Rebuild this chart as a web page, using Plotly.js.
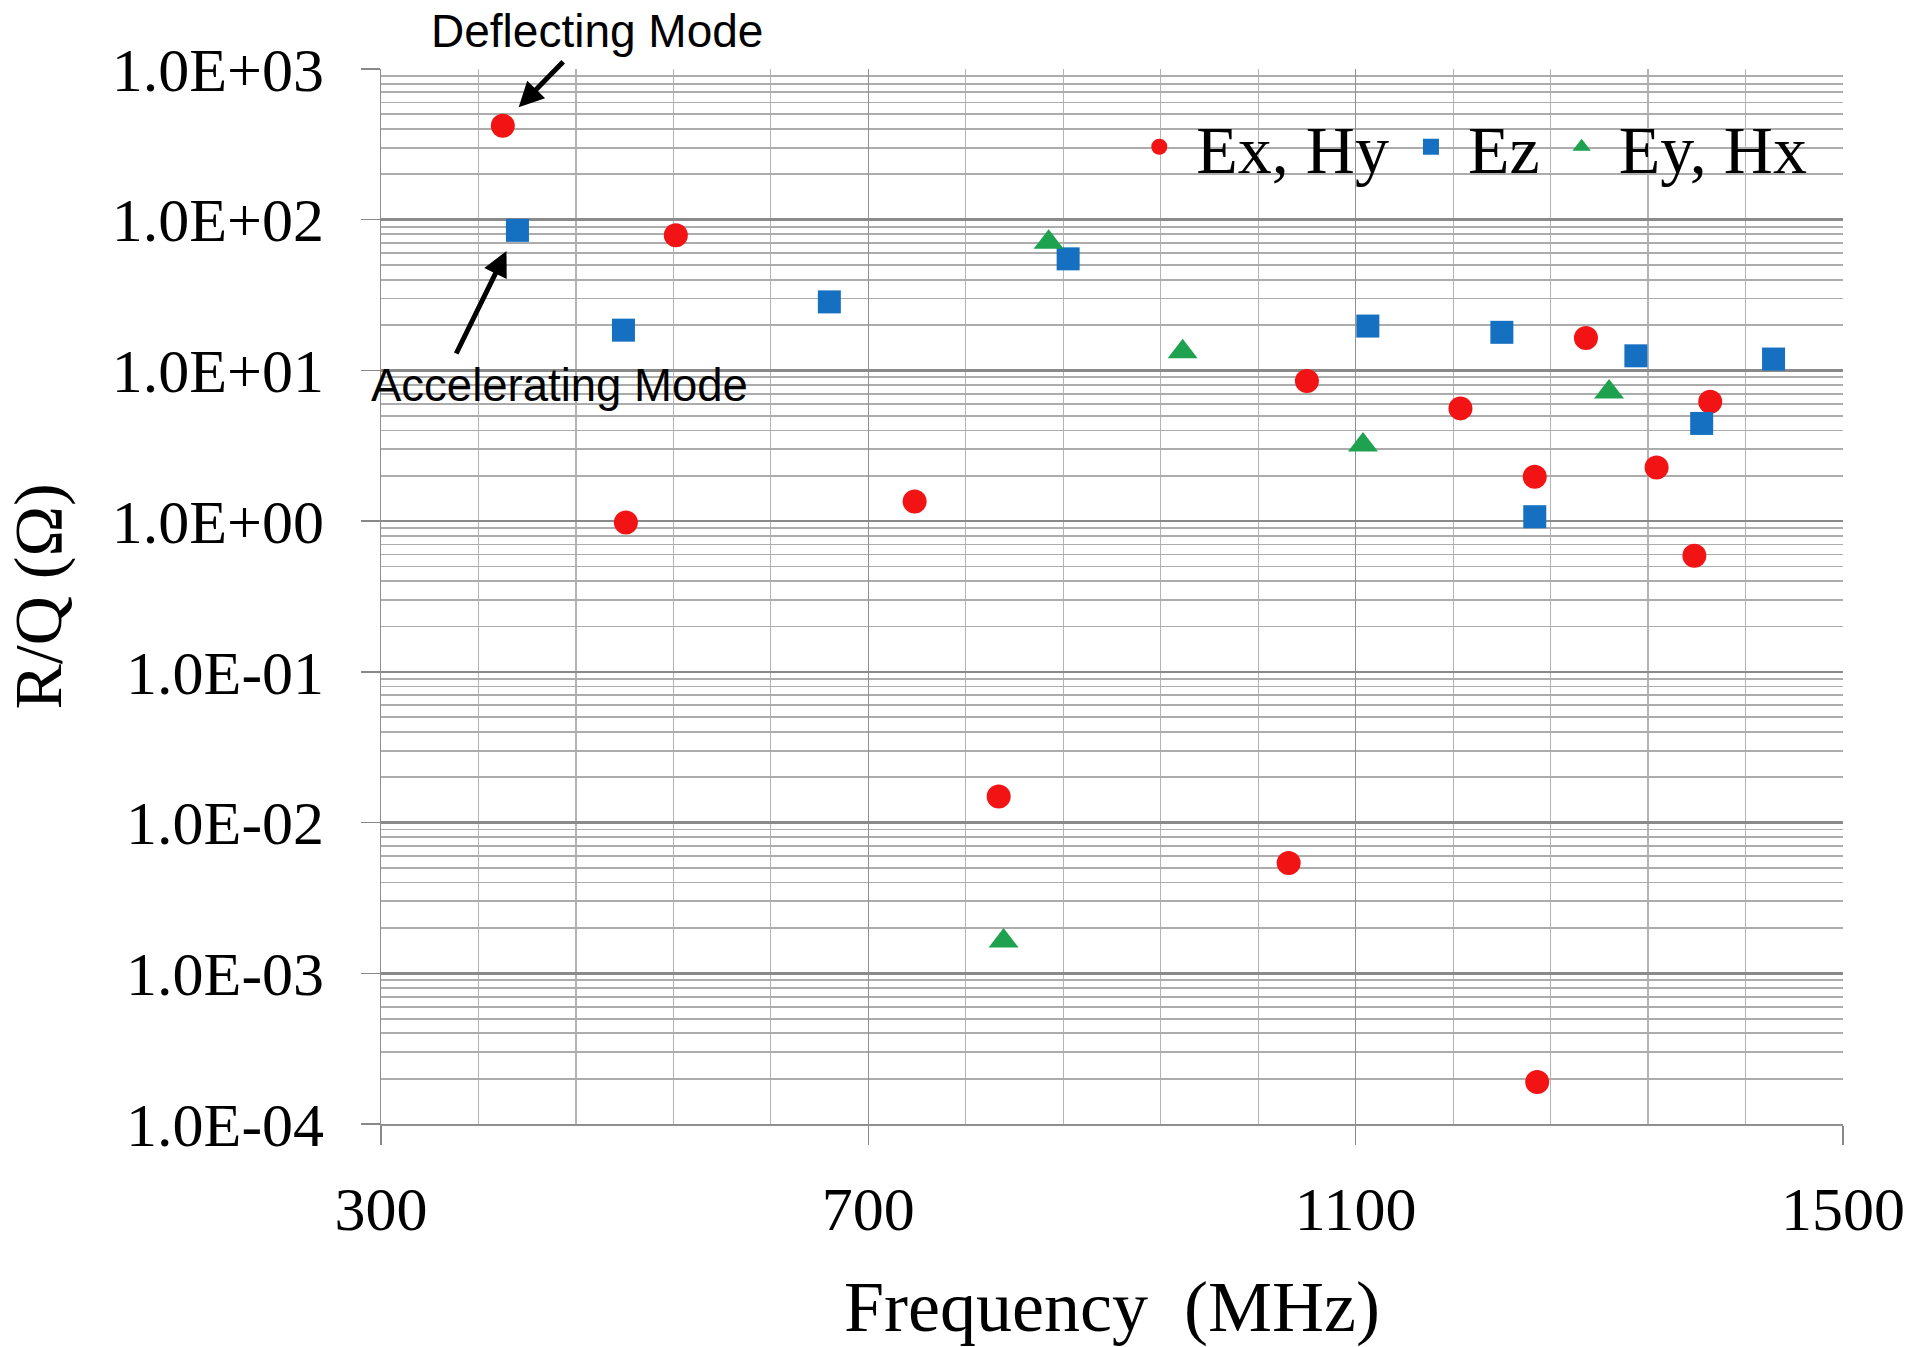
<!DOCTYPE html>
<html>
<head>
<meta charset="utf-8">
<script src="https://cdn.plot.ly/plotly-3.0.1.min.js"></script>
<style>html,body{margin:0;padding:0;background:#fff;}#chart{width:1931px;height:1347px;}</style>
</head>
<body>
<div id="chart"></div>
<script>
// ---- data ----
var exhyFreq = [400, 542, 501, 738, 807, 1045, 1060, 1186, 1247, 1249, 1289, 1347, 1378, 1391];
var exhyRQ   = [420, 79, 0.98, 1.35, 0.0149, 0.0054, 8.5, 5.6, 1.97, 0.00019, 16.4, 2.27, 0.59, 6.2];

var ezFreq = [412, 499, 668, 864, 1110, 1220, 1247, 1330, 1384, 1443];
var ezRQ   = [85, 18.5, 28.5, 55, 19.7, 17.9, 1.07, 12.5, 4.45, 11.9];

var eyhxFreq = [848, 958, 1106, 1308, 811];
var eyhxRQ   = [71, 13.3, 3.2, 7.2, 0.00164];

var seriesNames = ['Ex, Hy', 'Ez', 'Ey, Hx'];
var yTickVals = [1e-4, 1e-3, 1e-2, 1e-1, 1e0, 1e1, 1e2, 1e3];
var yTickText = ['1.0E-04', '1.0E-03', '1.0E-02', '1.0E-01', '1.0E+00', '1.0E+01', '1.0E+02', '1.0E+03'];
var xTickVals = [300, 700, 1100, 1500];

var serif = 'Liberation Serif, Times New Roman, serif';
var sans = 'Liberation Sans, Arial, sans-serif';

var traces = [
  {x: exhyFreq, y: exhyRQ, name: seriesNames[0], type: 'scatter', mode: 'markers',
   marker: {symbol: 'circle', size: 24, color: '#f21414'}},
  {x: ezFreq, y: ezRQ, name: seriesNames[1], type: 'scatter', mode: 'markers',
   marker: {symbol: 'square', size: 23, color: '#1570c1'}},
  {x: eyhxFreq, y: eyhxRQ, name: seriesNames[2], type: 'scatter', mode: 'markers',
   marker: {symbol: 'triangle-up', size: 26, color: '#1ea24f'}}
];

var layout = {
  width: 1931, height: 1347,
  margin: {l: 381, r: 88, t: 69, b: 223, pad: 0},
  paper_bgcolor: '#ffffff', plot_bgcolor: '#ffffff',
  showlegend: true,
  legend: {
    orientation: 'h', x: 0.979, xanchor: 'right', y: 0.926, yanchor: 'middle',
    font: {family: serif, size: 68, color: '#000'},
    bgcolor: 'rgba(255,255,255,0)', itemsizing: 'trace', itemwidth: 64, tracegroupgap: 0
  },
  xaxis: {
    type: 'linear', range: [300, 1500], tickmode: 'array', tickvals: xTickVals,
    ticks: 'outside', ticklen: 19, tickwidth: 1.5, tickcolor: '#888',
    ticklabelstandoff: 11,
    tickfont: {family: serif, size: 62, color: '#000'},
    showgrid: true, gridcolor: '#8f8f8f', gridwidth: 1.5,
    minor: {dtick: 80, tick0: 300, showgrid: true, gridcolor: '#b4b4b4', gridwidth: 1.2, ticks: ''},
    showline: true, linecolor: '#8f8f8f', linewidth: 1.5,
    zeroline: false, mirror: false,
    title: {text: 'Frequency  (MHz)', font: {family: serif, size: 72, color: '#000'}, standoff: 73}
  },
  yaxis: {
    type: 'log', range: [-4, 3], tickmode: 'array', tickvals: yTickVals, ticktext: yTickText,
    ticks: 'outside', ticklen: 19, tickwidth: 1.5, tickcolor: '#888',
    ticklabelstandoff: 24,
    tickfont: {family: serif, size: 62, color: '#000'},
    showgrid: true, gridcolor: '#8a8a8a', gridwidth: 2.5,
    minor: {dtick: 'D1', showgrid: true, gridcolor: '#acacac', gridwidth: 1.8, ticks: ''},
    showline: true, linecolor: '#8f8f8f', linewidth: 1.5,
    zeroline: false,
    title: {text: 'R/Q (Ω)', font: {family: serif, size: 68, color: '#000'}, standoff: 29}
  },
  annotations: [
    {xref: 'paper', yref: 'paper', x: 0.148, y: 1.036, text: 'Deflecting Mode', showarrow: false,
     xanchor: 'center', yanchor: 'middle', font: {family: sans, size: 46, color: '#000'}},
    {xref: 'paper', yref: 'paper', x: 0.122, y: 0.700, text: 'Accelerating Mode', showarrow: false,
     xanchor: 'center', yanchor: 'middle', font: {family: sans, size: 45.5, color: '#000'}},
    {xref: 'x', yref: 'y', x: 413, y: Math.log10(557), text: '', showarrow: true,
     ax: 46, ay: -47, arrowhead: 2, arrowsize: 1, arrowwidth: 5, arrowcolor: '#000', standoff: 0, startstandoff: 0},
    {xref: 'x', yref: 'y', x: 403, y: Math.log10(62), text: '', showarrow: true,
     ax: -51, ay: 104, arrowhead: 2, arrowsize: 1, arrowwidth: 5, arrowcolor: '#000', standoff: 0, startstandoff: 0}
  ]
};

Plotly.newPlot('chart', traces, layout, {staticPlot: true, displayModeBar: false});
</script>
</body>
</html>
